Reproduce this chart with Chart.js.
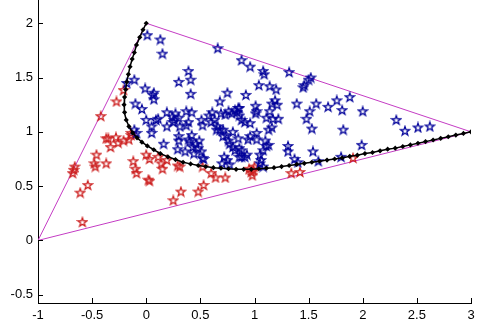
<!DOCTYPE html>
<html>
<head>
<meta charset="utf-8">
<script src="https://cdn.jsdelivr.net/npm/chart.js@4.4.1/dist/chart.umd.min.js"></script>
<style>
html,body{margin:0;padding:0;background:#fff;}
#wrap{width:485px;height:334px;position:relative;}
</style>
</head>
<body>
<div id="wrap"><canvas id="c" width="485" height="334"></canvas></div>
<script>
// ---- data ----
const xTicks = [-1, -0.5, 0, 0.5, 1, 1.5, 2, 2.5, 3];
const xTickLabels = ['-1', '-0.5', '0', '0.5', '1', '1.5', '2', '2.5', '3'];
const yTicks = [-0.5, 0, 0.5, 1, 1.5, 2];
const yTickLabels = ['-0.5', '0', '0.5', '1', '1.5', '2'];

const trianglePts = [[-1, 0], [0, 2], [3, 1], [-1, 0]];

const curvePts = [
  [0,2],[-0.03,1.94],[-0.06,1.87],[-0.09,1.80],[-0.11,1.73],[-0.13,1.67],[-0.15,1.60],
  [-0.165,1.53],[-0.18,1.46],[-0.19,1.39],[-0.2,1.32],[-0.205,1.25],[-0.2,1.18],
  [-0.185,1.11],[-0.16,1.05],[-0.125,0.99],[-0.085,0.945],[-0.04,0.905],[0.01,0.87],
  [0.07,0.835],[0.13,0.80],[0.2,0.77],[0.27,0.745],[0.34,0.72],[0.41,0.705],[0.48,0.69],
  [0.55,0.68],[0.62,0.67],[0.69,0.665],[0.76,0.66],[0.83,0.655],[0.9,0.655],[0.97,0.655],
  [1.04,0.66],[1.11,0.665],[1.18,0.67],[1.25,0.68],[1.32,0.69],[1.39,0.70],[1.46,0.71],
  [1.53,0.72],[1.6,0.73],[1.67,0.74],[1.74,0.75],[1.81,0.76],[1.88,0.775],[1.95,0.785],
  [2.02,0.80],[2.09,0.81],[2.16,0.825],[2.23,0.84],[2.30,0.85],[2.37,0.865],[2.44,0.88],
  [2.51,0.895],[2.58,0.91],[2.65,0.925],[2.72,0.94],[2.79,0.955],[2.86,0.97],[2.93,0.985],[3.0,1.0]
];

const bluePts = [
  [0.01,1.89],[0.13,1.85],[0.15,1.72],[0.66,1.77],
  [0.88,1.66],[0.96,1.60],[1.08,1.56],[1.09,1.53],[1.32,1.55],
  [0.39,1.56],[0.30,1.46],[0.41,1.48],[0.41,1.35],
  [-0.11,1.48],[-0.18,1.45],[-0.01,1.40],[0.07,1.36],[0.07,1.30],[-0.10,1.26],[-0.04,1.21],
  [0.75,1.36],[0.68,1.28],[0.92,1.34],
  [1.04,1.43],[1.14,1.42],[1.20,1.39],
  [1.46,1.43],[1.45,1.41],[1.50,1.48],[1.52,1.50],
  [1.19,1.29],[1.16,1.26],[1.21,1.25],[1.39,1.26],[1.57,1.26],[1.68,1.23],[1.76,1.29],[1.88,1.32],[1.81,1.20],[2.00,1.19],
  [1.51,1.19],[1.48,1.12],[1.53,1.03],[1.82,1.02],
  [2.31,1.11],[2.39,1.01],[2.51,1.04],[2.62,1.05],
  [0.19,1.18],[0.19,1.05],[0.26,1.11],[0.30,1.13],[0.37,1.19],[0.42,1.18],[0.39,1.09],[0.37,1.06],
  [0.00,1.11],[0.05,1.05],[0.05,0.99],[0.11,1.12],[0.24,1.14],[0.27,1.17],[0.06,1.34],[0.09,1.11],
  [-0.11,1.02],[-0.09,0.99],
  [0.16,0.89],[0.30,0.96],[0.30,0.92],[0.29,0.84],[0.39,0.93],[0.40,0.91],[0.43,0.86],[0.49,0.92],[0.42,0.97],[0.48,0.85],[0.52,0.76],[0.44,0.80],
  [0.51,1.11],[0.52,1.06],[0.63,1.11],[0.60,1.09],[0.66,1.05],[0.65,1.02],[0.68,1.02],[0.58,1.15],[0.61,1.18],[0.31,1.05],[0.25,1.09],
  [0.79,1.17],[0.85,1.22],[0.86,1.15],[0.88,1.11],[0.91,1.09],[0.96,1.08],[0.76,1.19],[0.69,1.17],[0.73,1.16],[0.82,1.20],[0.84,1.18],
  [0.71,1.02],[0.74,0.97],[0.85,0.94],[0.96,0.96],[1.02,0.99],[1.02,0.93],[1.10,0.92],[1.11,0.87],[1.08,0.83],[1.05,0.79],[1.06,0.74],[0.80,1.00],[0.94,0.93],[0.71,0.96],[0.76,0.92],
  [0.77,0.89],[0.80,0.86],[0.86,0.85],[0.88,0.77],[0.91,0.77],[0.72,0.77],[0.75,0.74],[0.70,0.71],[0.77,0.70],[0.82,0.83],[0.88,0.83],[0.86,0.77],[0.93,0.79],
  [1.01,1.24],[1.02,1.19],[1.01,1.17],[0.86,1.22],[1.11,1.13],[1.17,1.12],[1.22,1.12],[1.16,1.04],[1.13,1.02],[1.14,1.19],
  [1.31,0.87],[1.31,0.82],[1.54,0.82],[1.37,0.75],[1.40,0.72],[1.59,0.73],[1.80,0.77],[1.99,0.88],
  [1.13,0.88],[1.08,0.68],[1.05,0.71],
  [0.46,0.89],[0.36,0.82],[0.51,0.82],[0.53,0.75]
];

const redPts = [
  [-0.66,0.68],[-0.68,0.62],[-0.67,0.65],[-0.61,0.44],[-0.54,0.51],[-0.59,0.17],
  [-0.46,0.79],[-0.48,0.71],[-0.47,0.68],[-0.37,0.71],
  [-0.37,0.94],[-0.35,0.94],[-0.33,0.86],[-0.28,0.95],[-0.26,0.90],[-0.21,0.92],[-0.16,0.93],[-0.14,0.97],[-0.14,0.99],
  [-0.12,0.73],[-0.10,0.66],[-0.09,0.62],
  [0.00,0.79],[0.03,0.75],[0.02,0.56],[0.03,0.55],[0.11,0.77],[0.14,0.71],[0.15,0.66],[0.19,0.74],[0.29,0.69],[0.31,0.68],
  [0.25,0.37],[0.32,0.45],[0.48,0.45],[0.53,0.51],
  [0.52,0.68],[0.60,0.62],[0.64,0.58],[0.73,0.58],
  [0.97,0.63],[0.95,0.66],[0.98,0.60],[1.00,0.68],[0.99,0.65],
  [1.34,0.62],[1.42,0.63],[1.91,0.76],
  [-0.21,1.385],[-0.275,1.28],[-0.42,1.145]
];

// ---- rendering ----
function makeStar(color) {
  const c = document.createElement('canvas');
  const s = 12;
  c.width = s; c.height = s;
  const g = c.getContext('2d');
  g.strokeStyle = color;
  g.lineWidth = 1.25;
  g.lineJoin = 'miter';
  g.beginPath();
  for (let i = 0; i < 10; i++) {
    const r = (i % 2) ? 1.9 : 4.8;
    const a = -Math.PI / 2 + i * Math.PI / 5;
    const px = 6 + r * Math.cos(a), py = 6.4 + r * Math.sin(a);
    if (i === 0) g.moveTo(px, py); else g.lineTo(px, py);
  }
  g.closePath();
  g.stroke();
  return c;
}
const blueStar = makeStar('#00009a');
const redStar = makeStar('#cc1e1e');

const toXY = arr => arr.map(p => ({x: p[0], y: p[1]}));

const tickPlugin = {
  id: 'inTicks',
  afterDraw(chart) {
    const ctx = chart.ctx, xs = chart.scales.x, ys = chart.scales.y, a = chart.chartArea;
    ctx.save();
    ctx.strokeStyle = '#000';
    ctx.lineWidth = 1;
    ctx.beginPath();
    xTicks.forEach(v => {
      const px = Math.round(xs.getPixelForValue(v)) + 0.5;
      ctx.moveTo(px, a.bottom);
      ctx.lineTo(px, a.bottom - 5);
    });
    yTicks.forEach(v => {
      const py = Math.round(ys.getPixelForValue(v)) + 0.5;
      ctx.moveTo(a.left, py);
      ctx.lineTo(a.left + 5, py);
    });
    ctx.stroke();
    ctx.restore();
  }
};

new Chart(document.getElementById('c'), {
  type: 'scatter',
  data: {
    datasets: [
      {
        data: toXY(curvePts), showLine: true, borderColor: '#000', borderWidth: 1.5,
        pointStyle: 'rectRot', pointRadius: 2.6, pointBackgroundColor: '#000', pointBorderColor: '#000',
        pointBorderWidth: 0, order: 0
      },
      {
        data: toXY(bluePts), showLine: false, pointStyle: blueStar, order: 1
      },
      {
        data: toXY(redPts), showLine: false, pointStyle: redStar, order: 2
      },
      {
        data: toXY(trianglePts), showLine: true, borderColor: '#c43cc4', borderWidth: 1,
        pointRadius: 0, order: 3
      }
    ]
  },
  options: {
    responsive: false,
    animation: false,
    events: [],
    layout: {autoPadding: false, padding: {left: 0, right: 14, top: 0, bottom: 0}},
    plugins: {legend: {display: false}, tooltip: {enabled: false}},
    scales: {
      x: {
        type: 'linear', min: -1, max: 3,
        grid: {display: false, drawTicks: false},
        border: {display: true, color: '#000', width: 1},
        afterBuildTicks: s => { s.ticks = xTicks.map(v => ({value: v})); },
        afterFit: s => { s.height = 31; s.paddingLeft = 0; s.paddingRight = 0; },
        ticks: {
          padding: 5, color: '#000', maxRotation: 0, autoSkip: false,
          font: {family: 'Liberation Sans, Arial, sans-serif', size: 13},
          callback: (v) => xTickLabels[xTicks.indexOf(v)]
        }
      },
      y: {
        type: 'linear', min: -0.576, max: 2.214,
        grid: {display: false, drawTicks: false},
        border: {display: true, color: '#000', width: 1},
        afterBuildTicks: s => { s.ticks = yTicks.map(v => ({value: v})); },
        afterFit: s => { s.width = 38; s.paddingTop = 0; s.paddingBottom = 0; },
        ticks: {
          padding: 5, color: '#000', autoSkip: false,
          font: {family: 'Liberation Sans, Arial, sans-serif', size: 13},
          callback: (v) => yTickLabels[yTicks.indexOf(v)]
        }
      }
    }
  },
  plugins: [tickPlugin]
});
</script>
</body>
</html>
